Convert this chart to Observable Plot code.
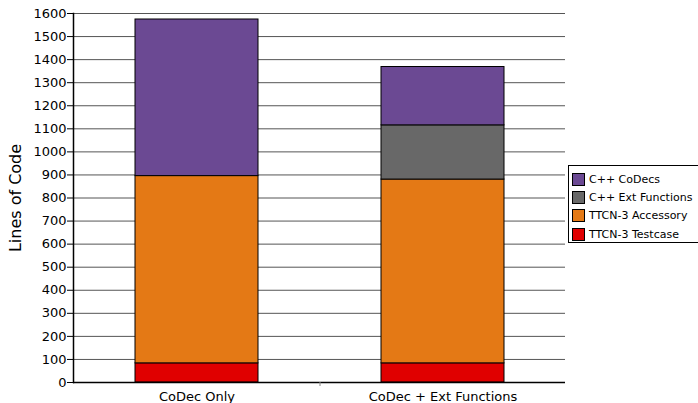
<!DOCTYPE html>
<html>
<head>
<meta charset="utf-8">
<script src="https://cdn.jsdelivr.net/npm/d3@7"></script>
<script src="https://cdn.jsdelivr.net/npm/@observablehq/plot@0.6"></script>
<style>
  html, body { margin: 0; padding: 0; background: #fff; }
  #wrap { position: relative; width: 698px; height: 403px; overflow: hidden; font-family: "DejaVu Sans", sans-serif; }
  #legend { position: absolute; left: 568px; top: 165px; width: 140px; height: 78px; border: 1px solid #000; border-right: none; background: #fff; box-sizing: border-box; padding-top: 4px; }
  .item { display: flex; align-items: center; height: 18.3px; font-size: 11px; color: #000; padding-left: 3px; }
  .sw { width: 13px; height: 13px; border: 1px solid #000; box-sizing: border-box; margin-right: 4px; }
</style>
</head>
<body>
<div id="wrap"></div>
<script>
const categories = ["CoDec Only", "CoDec + Ext Functions"];
const seriesNames = ["TTCN-3 Testcase", "TTCN-3 Accessory", "C++ Ext Functions", "C++ CoDecs"];
const seriesColors = ["#E00000", "#E47915", "#686868", "#6B4993"];
const testcase = [83, 83];
const accessory = [812, 797];
const extFunctions = [0, 235];
const codecs = [679, 253];
const yTicks = [0, 100, 200, 300, 400, 500, 600, 700, 800, 900, 1000, 1100, 1200, 1300, 1400, 1500, 1600];
const legendOrder = ["C++ CoDecs", "C++ Ext Functions", "TTCN-3 Accessory", "TTCN-3 Testcase"];

const seriesValues = [testcase, accessory, extFunctions, codecs];
const data = [];
seriesNames.forEach((s, si) => {
  categories.forEach((c, ci) => {
    data.push({category: c, series: s, value: seriesValues[si][ci]});
  });
});

const chart = Plot.plot({
  width: 698,
  height: 403,
  marginLeft: 73,
  marginRight: 133,
  marginTop: 13,
  marginBottom: 21,
  style: {fontFamily: "DejaVu Sans, sans-serif", fontSize: "13px", color: "#000", background: "#fff"},
  x: {domain: categories, paddingInner: 0.5, paddingOuter: 0.25},
  y: {domain: [0, 1600]},
  color: {domain: seriesNames, range: seriesColors},
  marks: [
    Plot.gridY(yTicks, {stroke: "#555", strokeOpacity: 1}),
    Plot.barY(data, {x: "category", y: "value", fill: "series", stroke: "#000", strokeWidth: 1, order: seriesNames}),
    Plot.ruleY([0], {stroke: "#000", strokeWidth: 1.5}),
    Plot.frame({anchor: "left", stroke: "#000", strokeWidth: 1.5}),
    Plot.axisY({ticks: yTicks, tickFormat: d => String(d), tickSize: 6, tickPadding: 1, label: null, fontSize: 13}),
    Plot.axisY({ticks: [], tickSize: 0, label: "Lines of Code", labelAnchor: "center", labelOffset: 64, labelArrow: "none", fontSize: 16}),
    Plot.axisX({tickSize: 0, tickPadding: 9, label: null, fontSize: 13}),
    Plot.ruleX([categories[0]], {y1: 0, y2: 0, insetBottom: -4, dx: 123, stroke: "#888"})
  ]
});

const wrap = document.getElementById("wrap");
wrap.appendChild(chart);

const legend = document.createElement("div");
legend.id = "legend";
legendOrder.forEach(name => {
  const it = document.createElement("div");
  it.className = "item";
  const sw = document.createElement("span");
  sw.className = "sw";
  sw.style.background = seriesColors[seriesNames.indexOf(name)];
  const tx = document.createElement("span");
  tx.textContent = name;
  it.appendChild(sw);
  it.appendChild(tx);
  legend.appendChild(it);
});
wrap.appendChild(legend);
</script>
</body>
</html>
